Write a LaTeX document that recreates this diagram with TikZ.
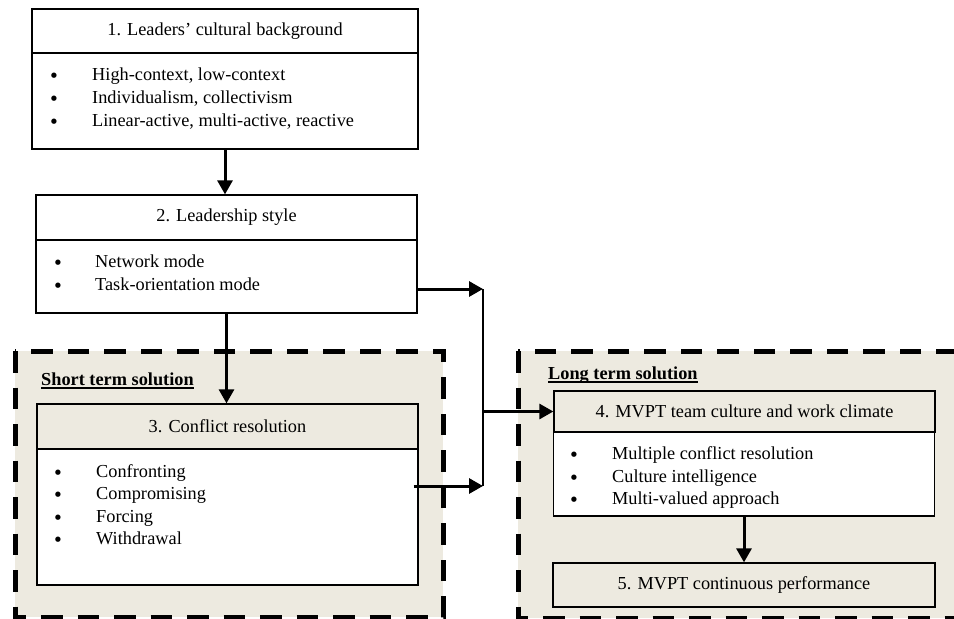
\documentclass[tikz,border=0pt]{standalone}
\usepackage{fontspec}
\setmainfont{Liberation Serif}
\newfontfamily\bulfont{DejaVu Sans}
\usetikzlibrary{arrows.meta,calc}
\definecolor{beige}{RGB}{237,234,224}
\tikzset{
  boxst/.style={draw=black, line width=1.3pt, rectangle, inner sep=0pt, align=center},
  zone/.style={draw=black, fill=beige, line width=5pt, dash pattern=on 21.5pt off 15pt},
  arr/.style={draw=black, line width=3pt, -{Triangle[length=14pt,width=15pt]}},
  thinline/.style={draw=black, line width=1.3pt},
  itm/.style={anchor=base west, inner sep=0pt},
  bul/.style={anchor=base, inner sep=0pt, yshift=-2pt, font=\fontsize{18.3}{23}\bulfont},
  lab/.style={anchor=base west, inner sep=0pt, font=\fontsize{18.3}{23}\selectfont\bfseries}
}
\begin{document}
\begin{tikzpicture}[x=1pt,y=-1pt,font=\fontsize{18.3}{23}\selectfont]
\useasboundingbox (0,0) rectangle (954,619);
% zones
\path[zone] (15,351) rectangle (443,617);
\path[zone] (518,351) rectangle (1000,618);
% box 1
\node[boxst, minimum width=386pt, minimum height=44pt] (b1t) at (225,31) {1. Leaders’ cultural background};
\node[boxst, minimum width=386pt, minimum height=96pt] (b1b) at (225,101) {};
\node[bul] (b1u1) at (54,80) {•};
\node[itm] (b1i1) at (92,80) {High-context, low-context};
\node[bul] (b1u2) at (54,103) {•};
\node[itm] (b1i2) at (92,103) {Individualism, collectivism};
\node[bul] (b1u3) at (54,126) {•};
\node[itm] (b1i3) at (92,126) {Linear-active, multi-active, reactive};
% box 2
\node[boxst, minimum width=381pt, minimum height=45pt] (b2t) at (226.5,217.5) {2. Leadership style};
\node[boxst, minimum width=381pt, minimum height=73pt] (b2b) at (226.5,276.5) {};
\node[bul] (b2u1) at (58,267) {•};
\node[itm] (b2i1) at (95,267) {Network mode};
\node[bul] (b2u2) at (58,290) {•};
\node[itm] (b2i2) at (95,290) {Task-orientation mode};
% short term
\node[lab] (sts) at (41,385) {Short term solution};
\draw[line width=1.2pt] ([yshift=-3pt]sts.base west) -- ([yshift=-3pt]sts.base east);
\node[boxst, fill=beige, minimum width=381pt, minimum height=45pt] (b3t) at (227.5,426.5) {3. Conflict resolution};
\node[boxst, fill=white, minimum width=381pt, minimum height=136pt] (b3b) at (227.5,517) {};
\node[bul] (b3u1) at (58,477) {•};
\node[itm] (b3i1) at (96,477) {Confronting};
\node[bul] (b3u2) at (58,499.5) {•};
\node[itm] (b3i2) at (96,499.5) {Compromising};
\node[bul] (b3u3) at (58,522) {•};
\node[itm] (b3i3) at (96,522) {Forcing};
\node[bul] (b3u4) at (58,544.5) {•};
\node[itm] (b3i4) at (96,544.5) {Withdrawal};
% long term
\node[lab] (lts) at (548,379) {Long term solution};
\draw[line width=1.2pt] ([yshift=-3pt]lts.base west) -- ([yshift=-3pt]lts.base east);
\node[boxst, fill=beige, minimum width=381pt, minimum height=41pt] (b4t) at (744.5,411.5) {4. MVPT team culture and work climate};
\node[boxst, fill=white, minimum width=381pt, minimum height=84pt] (b4b) at (744,474) {};
\node[bul] (b4u1) at (574,459) {•};
\node[itm] (b4i1) at (612,459) {Multiple conflict resolution};
\node[bul] (b4u2) at (574,482) {•};
\node[itm] (b4i2) at (612,482) {Culture intelligence};
\node[bul] (b4u3) at (574,504) {•};
\node[itm] (b4i3) at (612,504) {Multi-valued approach};
\node[boxst, fill=beige, minimum width=382pt, minimum height=44pt] (b5) at (744,585) {5. MVPT continuous performance};
% connectors
\coordinate (ja) at (483,289);
\coordinate (jb) at (483,486);
\coordinate (jc) at (483,411.5);
\draw[arr] (b1b.south) -- (b1b.south |- b2t.north);
\draw[arr] (b2b.south) -- (b2b.south |- b3t.north);
\draw[arr] (b2b.east |- ja) -- (ja);
\draw[thinline] (ja) -- (jb);
\draw[arr] ([xshift=-5pt]b3b.east |- jb) -- (jb);
\draw[arr] (jc) -- (b4t.west);
\draw[arr] (b4b.south) -- (b5.north);
\end{tikzpicture}
\end{document}
